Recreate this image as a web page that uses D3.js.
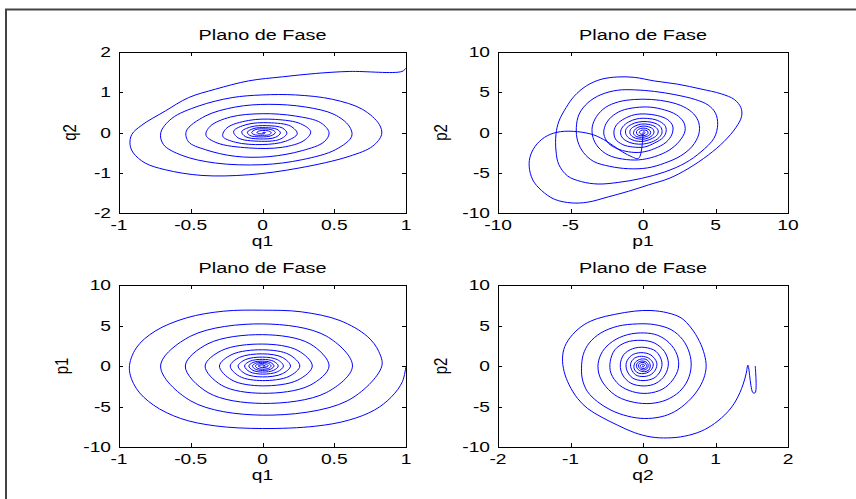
<!doctype html>
<html>
  <head>
    <meta charset="utf-8">
    <title>Plano de Fase</title>
    <style>
      body { margin: 0; background: #fff; }
      svg text { font-family: 'Liberation Sans', Arial, Helvetica, sans-serif; fill: #000; }
    </style>
  </head>
  <body>
    <svg width='856' height='499'></svg>

  <script src='https://d3js.org/d3.v7.min.js'></script>
  <script>
// Tick values for each axis.
var ticksQ1 = [-1, -0.5, 0, 0.5, 1],
  ticksQ2 = [-2, -1, 0, 1, 2],
  ticksP = [-10, -5, 0, 5, 10];

// Trajectory q1 vs q2.
var q1q2 = [
  [1.0, 1.6], [0.972, 1.517], [0.604, 1.517], [0.371, 1.467], [0.138, 1.383],
  [-0.096, 1.283], [-0.329, 1.075], [-0.515, 0.867], [-0.678, 0.533], [-0.841, 0.183],
  [-0.911, -0.05], [-0.923, -0.3], [-0.9, -0.508], [-0.818, -0.758], [-0.678, -0.925],
  [-0.422, -1.067], [-0.096, -1.05], [0.254, -0.883], [0.604, -0.592], [0.767, -0.342],
  [0.83, -0.05], [0.814, 0.2], [0.697, 0.575], [0.487, 0.825], [0.231, 0.933],
  [-0.002, 0.933], [-0.212, 0.867], [-0.445, 0.658], [-0.632, 0.35], [-0.709, -0.008],
  [-0.69, -0.3], [-0.562, -0.567], [-0.329, -0.758], [-0.002, -0.8], [0.277, -0.675],
  [0.51, -0.425], [0.622, -0.092], [0.604, 0.158], [0.499, 0.45], [0.301, 0.633],
  [0.044, 0.7], [-0.189, 0.633], [-0.399, 0.408], [-0.531, 0.033], [-0.515, -0.233],
  [-0.399, -0.425], [-0.189, -0.592], [0.044, -0.6], [0.277, -0.45], [0.429, -0.233],
  [0.464, -0.008], [0.406, 0.242], [0.231, 0.408], [-0.002, 0.467], [-0.224, 0.383],
  [-0.364, 0.158], [-0.394, -0.067], [-0.317, -0.258], [-0.096, -0.383], [0.138, -0.367],
  [0.289, -0.2], [0.336, 0.017], [0.266, 0.217], [0.091, 0.325], [-0.096, 0.3],
  [-0.247, 0.117], [-0.277, -0.092], [-0.189, -0.242], [-0.002, -0.3], [0.161, -0.217],
  [0.242, -0.033], [0.196, 0.158], [0.044, 0.242], [-0.108, 0.2], [-0.201, 0.033],
  [-0.17, -0.133], [-0.026, -0.217], [0.12, -0.17], [0.17, -0.02], [0.14, 0.11],
  [0.03, 0.17], [-0.08, 0.14], [-0.145, 0.02], [-0.12, -0.1], [-0.02, -0.16],
  [0.09, -0.12], [0.125, -0.01], [0.1, 0.08], [0.02, 0.12], [-0.06, 0.1],
  [-0.105, 0.01], [-0.09, -0.07], [-0.01, -0.11], [0.06, -0.08], [0.09, 0],
  [0.07, 0.06], [0.01, 0.09], [-0.05, 0.07], [-0.075, 0], [-0.06, -0.05],
  [0, -0.07], [0.05, -0.05], [0.06, 0], [0.04, 0.04], [0, 0.05],
  [-0.03, 0.03], [-0.04, 0], [-0.02, -0.03], [0.01, -0.03], [0.02, 0], [0, 0]
];

// Trajectory p1 vs p2.
var p1p2 = [
  [0, 0], [-0.3, -3.2], [-0.9, -2.9], [-1.6, -2.2], [-2.5, -1.1], [-3.4, -0.3],
  [-4.5, 0.1], [-5.7, 0.1], [-6.6, -0.4], [-7.3, -1.4], [-7.75, -2.8], [-7.85, -4.2],
  [-7.6, -5.9], [-7.0, -7.2], [-6.1, -8.3], [-4.9, -8.75], [-3.8, -8.65], [-2.4, -8.0],
  [-1.0, -7.3], [0.4, -6.5], [1.8, -5.7], [3.1, -4.5], [4.5, -2.8], [5.6, -1.1],
  [6.4, 0.6], [6.8, 2.0], [6.75, 3.1], [6.3, 4.1], [5.4, 4.8], [4.0, 5.4],
  [2.4, 6.0], [0.8, 6.4], [-0.6, 6.85], [-1.75, 6.9], [-2.9, 6.6], [-3.9, 5.8],
  [-4.75, 4.5], [-5.3, 3.1], [-5.8, 1.4], [-6.0, -0.2], [-6.0, -2.3], [-5.8, -4.0],
  [-5.2, -5.4], [-4.25, -6.1], [-3.1, -6.4], [-1.7, -6.2], [-0.1, -5.7], [1.5, -4.9],
  [2.9, -3.8], [4.0, -2.4], [4.9, -0.7], [5.15, 1.0], [5.0, 2.4], [4.5, 3.4],
  [3.6, 4.1], [2.2, 4.7], [0.8, 5.1], [-0.6, 5.3], [-1.75, 5.25], [-2.9, 4.7],
  [-3.8, 3.7], [-4.4, 2.3], [-4.6, 0.6], [-4.5, -1.1], [-4.1, -2.5], [-3.4, -3.6],
  [-2.3, -4.2], [-1.0, -4.5], [0.3, -4.4], [1.5, -3.8], [2.6, -2.9], [3.4, -1.7],
  [3.85, -0.2], [3.85, 1.2], [3.5, 2.3], [2.8, 3.2], [1.8, 3.8], [0.6, 4.1],
  [-0.6, 4.1], [-1.7, 3.8], [-2.6, 3.1], [-3.2, 2.0], [-3.5, 0.7], [-3.45, -0.6],
  [-3.1, -1.8], [-2.4, -2.8], [-1.4, -3.3], [-0.3, -3.4], [0.8, -3.0], [1.8, -2.2],
  [2.5, -1.1], [2.9, 0.2], [2.8, 1.3], [2.3, 2.2], [1.5, 2.8], [0.5, 3.15],
  [-0.5, 3.1], [-1.5, 2.7], [-2.2, 1.9], [-2.6, 0.9], [-2.7, -0.2], [-2.4, -1.3],
  [-1.8, -2.0], [-1.0, -2.4], [-0.1, -2.45], [0.8, -2.0], [1.6, -1.2], [2.0, -0.2],
  [2.05, 0.8], [1.7, 1.6], [1.0, 2.1], [0.2, 2.3], [-0.6, 2.2], [-1.3, 1.7],
  [-1.8, 1.0], [-2.0, 0.2], [-1.9, -0.8], [-1.4, -1.5], [-0.7, -1.8], [0.1, -1.8],
  [0.8, -1.3], [1.4, -0.6], [1.6, 0.2], [1.5, 0.9], [1.0, 1.5], [0.3, 1.75],
  [-0.4, 1.7], [-1.0, 1.3], [-1.4, 0.7], [-1.55, 0], [-1.4, -0.7], [-0.9, -1.25],
  [-0.3, -1.45], [0.4, -1.3], [1.0, -0.8], [1.3, -0.1], [1.25, 0.6], [0.9, 1.1],
  [0.3, 1.35], [-0.3, 1.3], [-0.8, 1.0], [-1.15, 0.5], [-1.2, -0.1], [-1.0, -0.65],
  [-0.6, -1.0], [0, -1.1], [0.55, -0.8], [0.95, -0.35], [1.05, 0.2], [0.85, 0.7],
  [0.4, 1.0], [-0.1, 1.05], [-0.55, 0.8], [-0.85, 0.4], [-0.9, -0.1], [-0.7, -0.55],
  [-0.3, -0.8], [0.15, -0.8], [0.55, -0.5], [0.75, -0.05], [0.7, 0.4], [0.4, 0.7],
  [0, 0.8], [-0.4, 0.6], [-0.6, 0.25], [-0.65, -0.15], [-0.45, -0.5], [-0.1, -0.6],
  [0.25, -0.5], [0.5, -0.2], [0.5, 0.2], [0.3, 0.45], [0, 0.55], [-0.3, 0.4],
  [-0.45, 0.1], [-0.4, -0.25], [-0.15, -0.4], [0.15, -0.35], [0.35, -0.1], [0.3, 0.2],
  [0.1, 0.3], [-0.15, 0.25], [-0.25, 0], [-0.15, -0.2], [0.05, -0.2], [0.15, 0],
  [0.05, 0.1], [0, 0]
];

// Trajectory q1 vs p1.
var q1p1 = [
  [1.0, 0], [0.975, -1.93], [0.9, -3.79], [0.78, -5.44], [0.6, -6.69], [0.37, -7.43],
  [0, -7.72], [-0.33, -7.39], [-0.57, -6.48], [-0.76, -4.82], [-0.88, -2.75],
  [-0.928, -0.27], [-0.88, 2.22], [-0.75, 4.29], [-0.53, 5.94], [-0.27, 6.77],
  [0, 6.89], [0.27, 6.69], [0.54, 5.61], [0.73, 3.66], [0.81, 1.8], [0.83, -0.1],
  [0.59, -4.31], [0, -6.07], [-0.5, -4.31], [-0.71, 0], [-0.5, 3.69], [0, 5.2], [0.445, 3.69],
  [0.627, 0], [0.445, -3.28], [0, -4.62], [-0.38, -3.28], [-0.538, 0], [-0.38, 2.75], [0, 3.87],
  [0.33, 2.75], [0.464, 0], [0.33, -2.39], [0, -3.37], [-0.284, -2.39], [-0.4, 0], [-0.284, 1.92],
  [0, 2.71], [0.246, 1.92], [0.347, 0], [0.246, -1.74], [0, -2.45], [-0.213, -1.74], [-0.3, 0],
  [-0.213, 1.42], [0, 2.0], [0.185, 1.42], [0.26, 0], [0.185, -1.28], [0, -1.8], [-0.16, -1.28],
  [-0.225, 0], [-0.16, 1.065], [0, 1.5], [0.138, 1.065], [0.195, 0], [0.138, -0.96], [0, -1.35],
  [-0.12, -0.96], [-0.17, 0], [-0.12, 0.78], [0, 1.1], [0.104, 0.78], [0.146, 0],
  [0.104, -0.71], [0, -1.0], [-0.089, -0.71], [-0.125, 0], [-0.089, 0.58], [0, 0.82],
  [0.078, 0.58], [0.11, 0], [0.078, -0.53], [0, -0.75], [-0.067, -0.53], [-0.095, 0],
  [-0.067, 0.43], [0, 0.6], [0.057, 0.43], [0.08, 0], [0.057, -0.39], [0, -0.55],
  [-0.05, -0.39], [-0.07, 0], [-0.05, 0.32], [0, 0.45], [0.043, 0.32], [0.06, 0],
  [0.043, -0.28], [0, -0.4], [-0.035, -0.28], [-0.05, 0], [-0.035, 0.21], [0, 0.3],
  [0.028, 0.21], [0.04, 0], [0, -0.2], [-0.03, 0], [0, 0.15], [0.02, 0], [0, 0]
];

// Trajectory q2 vs p2.
var q2p2 = [
  [1.548, 0], [1.548, -3.29], [1.516, -3.29], [1.447, 0.1], [1.424, -0.89], [1.378, -2.34],
  [1.286, -4.2], [1.17, -5.65], [0.986, -7.1], [0.802, -8.05], [0.571, -8.67], [0.341, -8.88],
  [0.11, -8.76], [-0.12, -8.22], [-0.35, -7.31], [-0.58, -6.27], [-0.765, -5.24], [-0.903, -4.0],
  [-1.018, -2.34], [-1.088, -0.68], [-1.11, 0.97], [-1.078, 2.42], [-0.972, 3.87], [-0.811, 5.11],
  [-0.627, 5.86], [-0.396, 6.36], [-0.12, 6.77], [0.11, 6.85], [0.341, 6.56], [0.525, 5.94],
  [0.664, 4.7], [0.779, 3.04], [0.848, 1.39], [0.871, -0.06], [0.839, -1.51], [0.756, -2.96],
  [0.618, -4.41], [0.433, -5.65], [0.249, -6.27], [0.018, -6.48], [-0.212, -6.19], [-0.442, -5.45],
  [-0.627, -4.41], [-0.765, -3.17], [-0.834, -1.72], [-0.848, -0.27], [-0.825, 1.39], [-0.742, 2.84],
  [-0.581, 4.08], [-0.35, 4.91], [-0.074, 5.2], [0.157, 5.11], [0.387, 4.49], [0.548, 3.25],
  [0.641, 1.59], [0.664, -0.06], [0.618, -1.72], [0.502, -3.17], [0.318, -4.2], [0.11, -4.62],
  [-0.12, -4.49], [-0.35, -3.79], [-0.512, -2.55], [-0.604, -1.1], [-0.618, 0.35], [-0.558, 1.8],
  [-0.419, 3.04], [-0.212, 3.87], [0.018, 4.08], [0.203, 3.79], [0.364, 2.84], [0.47, 1.39],
  [0.488, -0.27], [0.41, -1.72], [0.272, -2.84], [0.065, -3.37], [-0.143, -3.17], [-0.327, -2.34],
  [-0.442, -0.89], [-0.452, 0.56], [-0.387, 2.01], [-0.235, 2.92], [-0.028, 3.17], [0.157, 2.84],
  [0.295, 1.8], [0.35, 0.35], [0.304, -1.1], [0.18, -2.13], [0.018, -2.46], [-0.166, -2.13],
  [-0.281, -1.1], [-0.313, 0.14], [-0.267, 1.39], [-0.143, 2.13], [0.018, 2.3], [0.18, 1.8],
  [0.26, 0.5], [0.24, -0.6], [0.15, -1.5], [0.0, -1.8], [-0.14, -1.5], [-0.22, -0.6],
  [-0.23, 0.4], [-0.16, 1.3], [-0.03, 1.65], [0.11, 1.35], [0.19, 0.4], [0.17, -0.5],
  [0.1, -1.1], [0.0, -1.3], [-0.1, -1.1], [-0.16, -0.4], [-0.17, 0.3], [-0.12, 0.95],
  [-0.02, 1.2], [0.08, 0.95], [0.14, 0.3], [0.12, -0.4], [0.05, -0.85], [-0.02, -0.95],
  [-0.09, -0.75], [-0.125, -0.2], [-0.11, 0.4], [-0.05, 0.8], [0.03, 0.85], [0.08, 0.55],
  [0.1, 0.0], [0.08, -0.5], [0.02, -0.7], [-0.05, -0.55], [-0.09, -0.1], [-0.08, 0.35],
  [-0.03, 0.6], [0.03, 0.55], [0.07, 0.2], [0.06, -0.3], [0.01, -0.5], [-0.04, -0.35],
  [-0.065, 0], [-0.05, 0.3], [0, 0.45], [0.04, 0.25], [0.05, -0.1], [0.02, -0.3],
  [-0.02, -0.25], [-0.04, 0], [-0.02, 0.2], [0.01, 0.2], [0.02, 0], [0, -0.1], [-0.01, 0], [0, 0]
];

var svg = d3.select('svg'),
  SX = 1.28;  // the figure was stretched sideways, text too

// Figure frame (top and left edges only are visible).
svg.append('path')
  .attr('d', 'M6,499V9.5H856')
  .attr('fill', 'none')
  .attr('stroke', '#444')
  .attr('stroke-width', 2);

var panels = [
  {data: q1q2, xd: [-1, 1], yd: [-2, 2], xt: ticksQ1, yt: ticksQ2, xl: 'q1', yl: 'q2',
   x0: 119, x1: 406, y0: 52, y1: 213, ylx: 76},
  {data: p1p2, xd: [-10, 10], yd: [-10, 10], xt: ticksP, yt: ticksP, xl: 'p1', yl: 'p2',
   x0: 498, x1: 788, y0: 52, y1: 213, ylx: 447},
  {data: q1p1, xd: [-1, 1], yd: [-10, 10], xt: ticksQ1, yt: ticksP, xl: 'q1', yl: 'p1',
   x0: 119, x1: 406, y0: 285, y1: 447, ylx: 68},
  {data: q2p2, xd: [-2, 2], yd: [-10, 10], xt: ticksQ2, yt: ticksP, xl: 'q2', yl: 'p2',
   x0: 498, x1: 788, y0: 285, y1: 447, ylx: 447}
];

function text(x, y, str, anchor, size, rot) {
  return svg.append('text')
    .attr('transform', 'translate(' + x + ',' + y + ') scale(' + SX + ',1)' + (rot ? ' rotate(-90)' : ''))
    .attr('text-anchor', anchor)
    .attr('font-size', size)
    .text(str);
}

panels.forEach(function(p) {
  var x = d3.scaleLinear().domain(p.xd).range([p.x0, p.x1]),
    y = d3.scaleLinear().domain(p.yd).range([p.y1, p.y0]);

  // Trajectory
  svg.append('path')
    .datum(p.data)
    .attr('d', d3.line()
      .x(function(d) { return x(d[0]); })
      .y(function(d) { return y(d[1]); })
      .curve(d3.curveCatmullRom.alpha(0.5)))
    .attr('fill', 'none')
    .attr('stroke', '#0000ff')
    .attr('stroke-width', 1);

  // Box with inward ticks on all four sides
  var axes = [
    [d3.axisBottom(x).tickValues(p.xt), 0, p.y1],
    [d3.axisTop(x).tickValues(p.xt), 0, p.y0],
    [d3.axisLeft(y).tickValues(p.yt), p.x0, 0],
    [d3.axisRight(y).tickValues(p.yt), p.x1, 0]
  ];
  axes.forEach(function(a) {
    var g = svg.append('g')
      .attr('transform', 'translate(' + a[1] + ',' + a[2] + ')')
      .call(a[0].tickSizeInner(-4).tickSizeOuter(0).tickFormat(''));
    g.selectAll('path, line').attr('stroke', '#000').attr('shape-rendering', 'crispEdges');
  });

  // Tick labels
  p.xt.forEach(function(v) { text(x(v), p.y1 + 17, String(v), 'middle', 15); });
  p.yt.forEach(function(v) { text(p.x0 - 8, y(v) + 5, String(v), 'end', 15); });

  // Title and axis labels
  text((p.x0 + p.x1) / 2, p.y0 - 12, 'Plano de Fase', 'middle', 15.5);
  text((p.x0 + p.x1) / 2, p.y1 + 33, p.xl, 'middle', 15);
  text(p.ylx, (p.y0 + p.y1) / 2, p.yl, 'middle', 15, true);
});
  </script>
  </body>
</html>
